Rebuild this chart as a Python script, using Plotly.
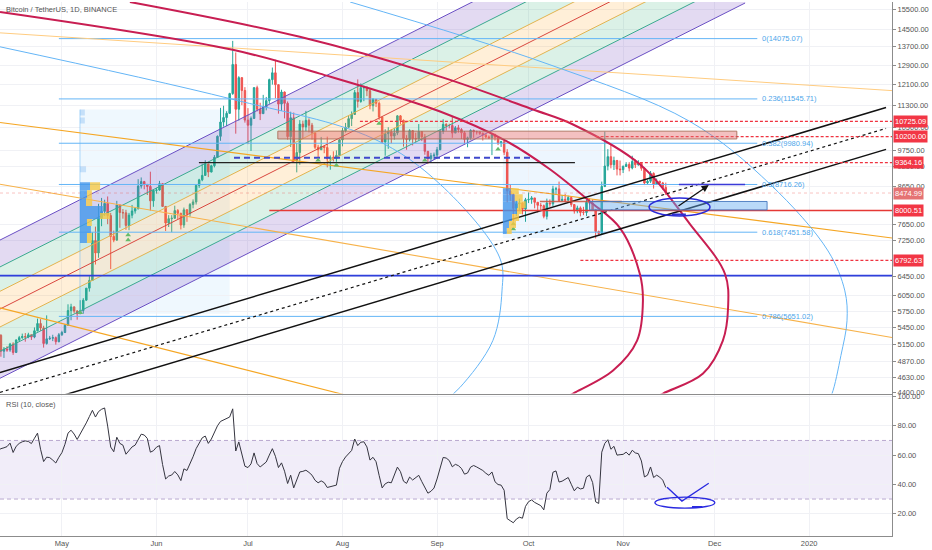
import numpy as np
import pandas as pd
import plotly.graph_objects as go

# ---------------------------------------------------------------
# BTC / USDT daily candles (Binance), 2019-04-10 .. 2019-11-15
# ---------------------------------------------------------------
first_open = 5200
closes = [
    5310, 5040, 5075, 5060, 5160, 5020, 5230, 5270, 5290, 5280, 5320, 5280, 5390, 5520, 5440, 5170, 5250, 5260, 5270, 5200, 5320,  # apr
    5360, 5490, 5760, 5830, 5750, 5700, 5760, 5960, 6200, 6360, 7250, 6960, 7800, 7980, 8190, 7870, 7350, 7260, 8150, 7950, 7940,
    7620, 7880, 7990, 8050, 8670, 8800, 8720, 8660, 8260, 8550,  # may
    8560, 8740, 8110, 7680, 7790, 7800, 8000, 7930, 7630, 8020, 7920, 8160, 8230, 8690, 8850, 8980, 9320, 9080, 9270, 9530,
    10210, 10700, 10860, 11010, 11750, 12930, 11160, 12380, 11870, 10770,  # jun
    10590, 10830, 11980, 11160, 11000, 11240, 11480, 12300, 12580, 12100, 11350, 11810, 11380, 10200, 10850, 9430, 9680, 10630,
    10530, 10760, 10590, 10320, 9850, 9770, 9880, 9840, 9480, 9530, 9500, 9590, 10090,  # jul
    10400, 10520, 10820, 10970, 11790, 11450, 11980, 11980, 11860, 11290, 11530, 11380, 10880, 10020, 10300, 10360, 10220, 10320,
    10920, 10760, 10140, 10110, 10400, 10140, 10130, 10370, 10190, 9720, 9490, 9580, 9600,  # aug
    9770, 10380, 10620, 10580, 10580, 10320, 10500, 10440, 10330, 10110, 10160, 10410, 10360, 10360, 10310, 10260, 10190, 10160,
    10270, 10180, 9990, 10030, 9690, 8530, 8430, 8060, 8180, 8200, 8040, 8290,  # sep
    8300, 8340, 8220, 8140, 8130, 7850, 8200, 8180, 8590, 8590, 8270, 8300, 8280, 8350, 8160, 7990, 8070, 7950, 7950, 8220, 8200,
    8020, 7470, 7420, 8660, 9260, 9550, 9300, 9430, 9170, 9150,  # oct
    9250, 9310, 9200, 9400, 9300, 9340, 9190, 8760, 8810, 9040, 8720, 8810, 8760, 8630, 8475,  # nov
]
highs = [
    5470, 5330, 5110, 5125, 5180, 5190, 5240, 5300, 5340, 5350, 5355, 5320, 5450, 5610, 5600, 5480, 5670, 5300, 5320, 5290, 5350,
    5390, 5510, 5880, 5890, 5840, 5770, 5960, 6000, 6200, 6450, 7450, 7590, 8180, 8340, 8290, 8380, 7940, 7490, 8260, 8160, 8040,
    8020, 7940, 8150, 8090, 8870, 8920, 8820, 8730, 9090, 8580,
    8620, 8820, 8750, 8110, 7880, 7880, 8130, 8040, 7940, 8080, 8040, 8200, 8300, 8700, 8880, 9330, 9440, 9330, 9300, 9600,
    10240, 11210, 11290, 11090, 11780, 13970, 13450, 12440, 12400, 12000,
    11200, 10900, 12000, 12060, 11400, 11700, 11620, 12340, 12800, 13130, 12100, 11900, 11830, 11450, 11070, 11040, 9990, 10770,
    10750, 11100, 10830, 10670, 10340, 9930, 10190, 9900, 10200, 9590, 9720, 9750, 10120,
    10500, 10670, 10920, 11080, 11890, 12310, 12150, 12060, 12040, 11960, 11580, 11540, 11450, 10880, 10450, 10520, 10460, 10500,
    10950, 10950, 10790, 10250, 10450, 10420, 10330, 10630, 10380, 10290, 9730, 9670, 9680,
    9860, 10440, 10800, 10660, 10640, 10890, 10560, 10600, 10490, 10390, 10200, 10450, 10440, 10400, 10380, 10340, 10260, 10240,
    10300, 10300, 10200, 10060, 10080, 9790, 8730, 8470, 8270, 8320, 8220, 8340,
    8490, 8390, 8340, 8230, 8200, 8160, 8320, 8300, 8680, 8650, 8800, 8420, 8450, 8400, 8390, 8170, 8130, 8110, 8100, 8290, 8330,
    8300, 8040, 7490, 8800, 10370, 9790, 9950, 9550, 9450, 9430,
    9280, 9380, 9380, 9580, 9460, 9440, 9360, 9220, 8860, 9110, 9070, 8890, 8820, 8790, 8770,
]
lows = [
    5180, 4950, 4930, 5030, 5030, 4980, 5010, 5210, 5250, 5200, 5260, 5230, 5260, 5380, 5390, 5100, 5150, 5230, 5210, 5150, 5190,
    5300, 5350, 5480, 5580, 5710, 5590, 5700, 5700, 5950, 6130, 6350, 6700, 6850, 7600, 7860, 7650, 6600, 7210, 7250, 7560, 7790,
    7510, 7500, 7800, 7920, 8030, 8600, 8580, 8420, 8000, 8100,
    8460, 8540, 8100, 7480, 7580, 7450, 7800, 7780, 7520, 7560, 7710, 7840, 8060, 8160, 8620, 8810, 8970, 8930, 9070, 9220,
    9520, 10060, 10540, 10560, 11000, 11700, 10300, 10750, 11310, 10680,
    9950, 9730, 10820, 11080, 10770, 10990, 11120, 11360, 12100, 11570, 11000, 11100, 10830, 10100, 9860, 9370, 9070, 9300,
    10120, 10380, 10340, 10100, 9790, 9520, 9760, 9660, 9220, 9150, 9400, 9390, 9590,
    9880, 10340, 10500, 10560, 10960, 11220, 11400, 11460, 11650, 11160, 11080, 11240, 10780, 9980, 9580, 9800, 9980, 10100,
    10250, 10620, 9870, 9770, 10040, 9910, 10000, 10100, 10050, 9610, 9320, 9360, 9450,
    9530, 9760, 10290, 10400, 10480, 10160, 10320, 10330, 10120, 9950, 9850, 10100, 10160, 10270, 10260, 10070, 10140, 10120,
    9600, 10070, 9920, 9860, 9600, 8220, 8260, 7720, 7860, 8000, 7900, 7710,
    8200, 8180, 8060, 7950, 8010, 7800, 7770, 8100, 8110, 8420, 8230, 8250, 8220, 8250, 8100, 7920, 7930, 7850, 7880, 7860, 8150,
    8000, 7300, 7360, 7400, 8640, 9130, 9190, 9140, 8980, 8980,
    9050, 9230, 9100, 9160, 9200, 9270, 9120, 8700, 8730, 8760, 8600, 8700, 8710, 8570, 8420,
]
# RSI(10, close)
rsi10 = [
    63, 64.4, 65, 65.8, 68.2, 61.8, 66, 68, 69.1, 69.7, 69.3, 67.9, 71.5, 75, 64, 55.6, 58.6, 58.3, 56.6, 54.6, 58.5,
    61.7, 67.4, 75, 77, 74.4, 70.7, 74.3, 78.1, 82, 86.3, 90.6, 86, 89.7, 91.3, 92.2, 79.8, 65.5, 62.3, 72.2, 68, 66.8,
    60.6, 63, 65.6, 66.8, 71.1, 74.3, 73.7, 71.4, 62, 63,
    65.4, 66.5, 53.6, 43.7, 45.7, 46.4, 48.8, 46.5, 42.6, 50.6, 49.5, 54, 58.9, 64.4, 68.1, 71.8, 73, 68, 71, 76,
    80, 83, 84, 85.5, 86, 91.6, 62.8, 69, 61, 52.4,
    51.5, 54, 61.5, 54.2, 51.9, 53.5, 55.3, 60, 64.4, 59.2, 51.5, 54.7, 49, 40.6, 46.3, 37.6, 42.9, 48.5,
    48.9, 49.7, 48.2, 46.3, 42.8, 41.1, 42.4, 41.2, 37.9, 38.4, 38.6, 39.5, 51,
    55.6, 58.7, 61.2, 63.2, 71, 66.5, 68.8, 69.1, 65.6, 56.6, 58.5, 55.5, 46.2, 37.6, 40.4, 41.5, 41.1, 47.1,
    51.8, 48.7, 42.2, 40.7, 45, 43, 44.5, 46.2, 41.9, 38, 34, 35.3, 37.5,
    43.7, 50.6, 58.4, 58, 56.3, 52, 53.7, 52.8, 50.9, 47, 47.8, 51.8, 52.9, 51.9, 50.8, 49.5, 47.6, 46.2,
    48.5, 41.8, 39.9, 39.5, 36, 16.6, 15.2, 13.8, 16.3, 17.6, 16.9, 25,
    28.2, 29.4, 27.7, 26.3, 25.5, 22.6, 34, 36.5, 48.3, 49.2, 41.6, 42.2, 43.4, 44.7, 40.1, 35.6, 38.1, 36.9, 37.4, 45, 46.4,
    41.3, 28.1, 27, 62, 68, 70.5, 64, 66, 60, 60.3,
    60.5, 62, 60, 63.3, 61.5, 61, 56, 45.1, 46.3, 51.9, 44.7, 46.3, 45, 42.9, 37.9,
]
dates = pd.date_range('2019-04-10', '2019-11-15', freq='D')
opens = [first_open] + closes[:-1]
assert len(closes) == len(highs) == len(lows) == len(rsi10) == len(dates)

# axis ticks
month_ticks = ['2019-05-01', '2019-06-01', '2019-07-01', '2019-08-01', '2019-09-01',
               '2019-10-01', '2019-11-01', '2019-12-01', '2020-01-01']
month_labels = ['May', 'Jun', 'Jul', 'Aug', 'Sep', 'Oct', 'Nov', 'Dec', '2020']
price_ticks = [15500, 14500, 13700, 12900, 12100, 11300, 10500, 9750, 9250, 8650,
               7650, 7250, 6450, 6050, 5750, 5450, 5150, 4870, 4630, 4400]
rsi_ticks = [20, 40, 60, 80, 100]
rsi_band = [30, 70]

# ---------------------------------------------------------------
# drawings (anchor dates / prices)
# ---------------------------------------------------------------
fork_dates = ['2019-04-10', '2019-12-11']
fork_purple_up = [7236, 24940]
fork_teal_up = [6625, 22830]
fork_orange_up = [6115, 21080]
fork_median = [5769, 19870]
fork_orange_lo = [5439, 18730]
fork_teal_lo = [5021, 17270]
fork_purple_lo = [4595, 15822]

fib_ratios = [0, 0.236, 0.382, 0.5, 0.618, 0.786]
fib_prices = [14075.07, 11545.71, 9980.94, 8716.26, 7451.58, 5651.02]
fib_span = ['2019-04-30', '2019-12-15']

arc_inner_dates = ['2019-04-10 17:00', '2019-06-26', '2019-07-24 14:00', '2019-09-02', '2019-09-23 22:00',
                   '2019-10-08', '2019-10-21', '2019-10-31', '2019-11-06 12:00', '2019-11-07 12:00',
                   '2019-11-05 14:00', '2019-10-28 17:00', '2019-10-15 14:00', '2019-10-11 07:00']
arc_inner_prices = [15363, 13567, 12545, 11076, 10041, 9163, 8252, 7553, 6496, 5947, 5219, 4730, 4386, 4287]
arc_outer_dates = ['2019-05-23 07:00', '2019-07-18', '2019-09-02', '2019-10-02 12:00', '2019-10-15 14:00',
                   '2019-11-06 12:00', '2019-11-22 22:00', '2019-12-04 10:00', '2019-12-05 10:00',
                   '2019-12-03 17:00', '2019-11-27 05:00', '2019-11-14 02:00', '2019-11-09 19:00']
arc_outer_prices = [15874, 14157, 12422, 11149, 10615, 9314, 7652, 6496, 5812, 5219, 4684, 4386, 4287]
blue_arc1_dates = ['2019-04-10 17:00', '2019-06-25', '2019-08-11', '2019-09-02', '2019-09-21 14:00',
                   '2019-09-22 07:00', '2019-09-19 07:00', '2019-09-08 12:00', '2019-09-03 14:00']
blue_arc1_prices = [13701, 11558, 10140, 8724, 6846, 6145, 5219, 4474, 4287]
blue_arc2_dates = ['2019-08-03 12:00', '2019-10-08', '2019-11-22 22:00', '2019-12-19 05:00', '2020-01-07 05:00',
                   '2020-01-12 17:00', '2020-01-13 10:00', '2020-01-11 10:00', '2020-01-08 12:00', '2020-01-07 05:00']
blue_arc2_prices = [15874, 12917, 10720, 8724, 7006, 6145, 5570, 4969, 4386, 4287]

trend_dates = ['2019-04-10 17:00', '2020-01-26 05:00']
trend_upper = [4700, 11223]
trend_mid = [4403, 10479]
trend_lower_dates = ['2019-04-23 19:00', '2020-01-26 05:00']
trend_lower = [4262, 9782]

orange_dates = ['2019-04-10 17:00', '2020-01-28 04:00']
orange_a = [14344, 11865]
orange_b = [10685, 7311]
orange_c = [8724, 5272]
orange_d_dates = ['2019-04-10 17:00', '2019-08-10']
orange_d = [5812, 4277]

dotted_levels = [10725.09, 10200.00, 9364.16, 6792.63]
dotted_starts = ['2019-08-06 17:00', '2019-10-23', '2019-11-06 12:00', '2019-10-18']
support_level, support_start = 8000.51, '2019-07-08'
last_price = 8474.99
blue_level = 6460
navy_dash_level, navy_dash_span = 9520, ['2019-06-26 10:00', '2019-10-01 12:00']
black_level, black_span = 9365, ['2019-06-14 22:00', '2019-10-16 05:00']
brown_level, brown_span = 8245, ['2019-10-04 17:00', '2019-10-31 14:00']
fib_mid_mark_span = ['2019-11-19 07:00', '2019-12-11']

label_prices = [10725.09, 10200.00, 9364.16, 8474.99, 8000.51, 6792.63]
label_colors = ['#f23645', '#f23645', '#f23645', '#e57373', '#f23645', '#f23645']

red_zone = dict(x0='2019-07-10 19:00', x1='2019-12-08 07:00', y0=10122, y1=10385)
blue_zone = dict(x0='2019-10-21', x1='2019-12-18 05:00', y0=8017, y1=8243)

vp1_start = '2019-05-06 22:00'
vp1_edges = [8782, 8555, 8334, 8118, 7934, 7780, 7604, 7430, 7193]
vp1_up = [3.3, 2.3, 2.0, 7.5, 6.6, 2.3, 3.6, 2.3]
vp1_down = [3.3, 1.6, 2.0, 0.0, 3.3, 1.6, 0.0, 1.6]
vp1_faint = [(10933, 11149, 1.6), (10652, 10861, 1.6), (9073, 9253, 2.0)]
vp1_box = dict(x1='2019-06-25', y0=5702, y1=11149)
vp2_start = '2019-09-22 14:00'
vp2_edges = [8610, 8444, 8252, 8066, 7908, 7729, 7553, 7408]
vp2_up = [2.6, 3.9, 4.9, 4.6, 3.0, 2.0, 1.3]
vp2_down = [2.6, 2.6, 2.6, 1.6, 2.3, 2.3, 1.6]
vp2_box = dict(x1='2019-10-25', y0=7311, y1=9944)

pivot_dates = ['2019-05-07', '2019-05-22 17:00', '2019-05-22 17:00', '2019-07-24', '2019-07-30',
               '2019-08-13', '2019-08-28', '2019-09-21', '2019-09-26', '2019-09-26']
pivot_prices = [5721, 7383, 7264, 9437, 9283, 10652, 9437, 9782, 7652, 7531]

arrow_from, arrow_to = ('2019-11-18 16:00', 8096), ('2019-11-29 02:00', 8698)
ellipse_main = dict(x0='2019-11-09 12:00', x1='2019-11-29 12:00', y0=7860, y1=8336)
ellipse_under = (['2019-11-17', '2019-11-21 14:00'], [7900, 7900])
rsi_v_dates = ['2019-11-15 10:00', '2019-11-20 07:00', '2019-11-29 02:00']
rsi_v_values = [38.1, 28.6, 40.8]
rsi_ellipse = dict(x0='2019-11-11 10:00', x1='2019-12-01 02:00', y0=23.8, y1=31.3)
rsi_under = (['2019-11-23 14:00', '2019-11-27'], [24.6, 24.6])

X_START, X_END, FAR = '2019-04-10 16:48', '2020-01-28 04:00', '2020-02-20'
Y_LO, Y_HI = 4386, 15874
RSI_LO, RSI_HI = 4.76, 101.36

fig = go.Figure()


def line(xs, ys, color, width=1, dash=None, smooth=False, axes=('x', 'y')):
    fig.add_trace(go.Scatter(
        x=xs, y=ys, mode='lines', xaxis=axes[0], yaxis=axes[1],
        line=dict(color=color, width=width, dash=dash, shape='spline' if smooth else 'linear'),
        hoverinfo='skip', showlegend=False))


def band(lo, hi, color):
    fig.add_trace(go.Scatter(
        x=[fork_dates[0], fork_dates[1], fork_dates[1], fork_dates[0]],
        y=[lo[0], lo[1], hi[1], hi[0]], mode='lines', fill='toself',
        fillcolor=color, line=dict(width=0), hoverinfo='skip', showlegend=False))


def box(x0, x1, y0, y1, fill, border=None, layer='above', yref='y', xref='x'):
    fig.add_shape(type='rect', xref=xref, yref=yref, x0=x0, x1=x1, y0=y0, y1=y1,
                  fillcolor=fill, layer=layer,
                  line=dict(color=border or 'rgba(0,0,0,0)', width=1 if border else 0))


# volume profile backgrounds
box(vp1_start, vp1_box['x1'], vp1_box['y0'], vp1_box['y1'], 'rgba(144,202,249,0.14)', layer='below')
box(vp2_start, vp2_box['x1'], vp2_box['y0'], vp2_box['y1'], 'rgba(144,202,249,0.16)', layer='below')

# pitchfork
purple_f, green_f, orange_f = 'rgba(126,87,194,0.22)', 'rgba(56,176,120,0.18)', 'rgba(255,167,38,0.18)'
band(fork_teal_up, fork_purple_up, purple_f)
band(fork_orange_up, fork_teal_up, green_f)
band(fork_median, fork_orange_up, orange_f)
band(fork_orange_lo, fork_median, orange_f)
band(fork_teal_lo, fork_orange_lo, green_f)
band(fork_purple_lo, fork_teal_lo, purple_f)
for lvl, col in [(fork_purple_up, '#6a4fc4'), (fork_teal_up, '#3aa98f'), (fork_orange_up, '#e2b34e'),
                 (fork_median, '#d9473f'), (fork_orange_lo, '#e2b34e'), (fork_teal_lo, '#3aa98f'),
                 (fork_purple_lo, '#6a4fc4')]:
    line(fork_dates, lvl, col, 1)

# fib retracement
for p in fib_prices:
    line(fib_span, [p, p], '#64b5f6', 1)
line([vp1_start, vp1_start], [vp1_box['y0'], vp1_box['y1']], 'rgba(100,181,246,0.5)', 1)

# thin orange and light-blue drawings
line(orange_dates, orange_a, '#ffcc80', 1)
line(orange_dates, orange_b, '#f5a623', 1.1)
line(orange_dates, orange_c, '#f7b24a', 1.1)
line(orange_d_dates, orange_d, '#f5a623', 1.1)
line(blue_arc1_dates, blue_arc1_prices, '#64b5f6', 1, smooth=True)
line(blue_arc2_dates, blue_arc2_prices, '#64b5f6', 1, smooth=True)

# full-width levels
line([X_START, FAR], [blue_level, blue_level], '#2f3fdc', 1.6)
line([X_START, FAR], [last_price, last_price], 'rgba(239,83,80,0.35)', 1, dash='dot')

# candles
fig.add_trace(go.Candlestick(
    x=dates, open=opens, high=highs, low=lows, close=closes,
    increasing=dict(line=dict(color='#26a69a', width=1), fillcolor='#26a69a'),
    decreasing=dict(line=dict(color='#ef5350', width=1), fillcolor='#ef5350'),
    whiskerwidth=0, hoverinfo='skip', showlegend=False, xaxis='x', yaxis='y'))

# arcs, trend lines, levels drawn over the candles
line(arc_inner_dates, arc_inner_prices, '#c81e52', 2, smooth=True)
line(arc_outer_dates, arc_outer_prices, '#c81e52', 2, smooth=True)
line(trend_dates, trend_upper, '#111111', 1.5)
line(trend_dates, trend_mid, '#111111', 1.2, dash='dot')
line(trend_lower_dates, trend_lower, '#111111', 1.5)
for p, s in zip(dotted_levels, dotted_starts):
    line([s, FAR], [p, p], '#ef3340', 1.4, dash='3px,2px')
line([support_start, FAR], [support_level, support_level], '#e53935', 1.4)
line(navy_dash_span, [navy_dash_level] * 2, '#3f48cc', 2, dash='6px,4px')
line(black_span, [black_level] * 2, '#222222', 1.2)
line(brown_span, [brown_level] * 2, 'rgba(205,80,60,0.85)', 1.5)
line(fib_mid_mark_span, [fib_prices[3]] * 2, '#3a3ad8', 1.6)
line(ellipse_under[0], ellipse_under[1], '#3030d0', 2)

fig.add_trace(go.Scatter(
    x=pivot_dates, y=pivot_prices, mode='markers', hoverinfo='skip', showlegend=False,
    marker=dict(symbol='triangle-up', size=5, color='#66bb6a')))

# zones
box(red_zone['x0'], red_zone['x1'], red_zone['y0'], red_zone['y1'],
    'rgba(229,115,115,0.45)', 'rgba(170,110,90,0.9)')
box(blue_zone['x0'], blue_zone['x1'], blue_zone['y0'], blue_zone['y1'],
    'rgba(100,170,240,0.45)', 'rgba(70,120,190,0.9)')

# volume profile rows
t1 = pd.Timestamp(vp1_start)
for i, (u, d) in enumerate(zip(vp1_up, vp1_down)):
    top, bot = vp1_edges[i], vp1_edges[i + 1]
    box(t1, t1 + pd.Timedelta(days=u), bot, top, 'rgba(66,150,235,0.8)')
    if d:
        box(t1 + pd.Timedelta(days=u), t1 + pd.Timedelta(days=u + d), bot, top, 'rgba(245,200,70,0.8)')
for bot, top, u in vp1_faint:
    box(t1, t1 + pd.Timedelta(days=u), bot, top, 'rgba(100,170,240,0.3)')
t2 = pd.Timestamp(vp2_start)
for i, (u, d) in enumerate(zip(vp2_up, vp2_down)):
    top, bot = vp2_edges[i], vp2_edges[i + 1]
    box(t2, t2 + pd.Timedelta(days=u), bot, top, 'rgba(66,150,235,0.8)')
    box(t2 + pd.Timedelta(days=u), t2 + pd.Timedelta(days=u + d), bot, top, 'rgba(245,200,70,0.8)')

fig.add_shape(type='circle', xref='x', yref='y', **ellipse_main,
              line=dict(color='#2a2ad8', width=1.5), layer='above')

# ---------------- RSI pane ----------------
box(X_START, FAR, rsi_band[0], rsi_band[1], 'rgba(149,117,205,0.13)', layer='below',
    xref='x2', yref='y2')
for v in rsi_band:
    line([X_START, FAR], [v, v], '#b9a9cf', 1, dash='4px,3px', axes=('x2', 'y2'))
line(dates, rsi10, '#34343f', 1, axes=('x2', 'y2'))
line(rsi_v_dates, rsi_v_values, '#2a2ae0', 1.3, axes=('x2', 'y2'))
line(rsi_under[0], rsi_under[1], '#2a2ae0', 2, axes=('x2', 'y2'))
fig.add_shape(type='circle', xref='x2', yref='y2', **rsi_ellipse,
              line=dict(color='#2a2ae0', width=1.3), layer='above')

# ---------------- annotations ----------------
ann = []
for r, p in zip(fib_ratios, fib_prices):
    ann.append(dict(x=fib_span[1], y=np.log10(p), xref='x', yref='y', xanchor='left', yanchor='middle',
                    xshift=3, text=f'{r}({p:.2f})', showarrow=False,
                    font=dict(size=7.5, color='#4ea6ea')))
for p, c in zip(label_prices, label_colors):
    ann.append(dict(x=1, y=np.log10(p), xref='paper', yref='y', xanchor='left', yanchor='middle',
                    xshift=1, text=f'{p:.2f}', showarrow=False, bgcolor=c, borderpad=1,
                    font=dict(size=7.5, color='white')))
ann.append(dict(x=arrow_to[0], y=np.log10(arrow_to[1]), ax=arrow_from[0], ay=np.log10(arrow_from[1]),
                xref='x', yref='y', axref='x', ayref='y', text='', showarrow=True,
                arrowhead=2, arrowsize=1.1, arrowwidth=1.3, arrowcolor='#111111'))
ann.append(dict(x=0.005, y=0.999, xref='paper', yref='paper', xanchor='left', yanchor='top',
                text='Bitcoin / TetherUS, 1D, BINANCE', showarrow=False,
                font=dict(size=7.5, color='#555555')))
ann.append(dict(x=0.005, y=0.258, xref='paper', yref='paper', xanchor='left', yanchor='top',
                text='RSI (10, close)', showarrow=False, font=dict(size=7.5, color='#555555')))

grid = '#f0f1f5'
axis_line = '#8c8c8c'
fig.update_layout(
    width=932, height=550,
    margin=dict(l=0, r=40, t=0, b=14),
    paper_bgcolor='white', plot_bgcolor='white',
    showlegend=False, hovermode=False,
    font=dict(family='Liberation Sans, Arial, sans-serif', size=8, color='#555555'),
    annotations=ann,
    xaxis=dict(domain=[0, 1], anchor='y', type='date', range=[X_START, X_END],
               tickvals=month_ticks, showticklabels=False, ticks='',
               showgrid=True, gridcolor=grid, zeroline=False,
               showline=True, linecolor=axis_line, linewidth=1,
               rangeslider=dict(visible=False)),
    yaxis=dict(domain=[0.2668, 1], anchor='x', type='log', side='right',
               range=[np.log10(Y_LO), np.log10(Y_HI)],
               tickvals=price_ticks, ticktext=[f'{v:.2f}' for v in price_ticks],
               tickfont=dict(size=7.5, color='#555555'),
               ticks='outside', ticklen=3, tickcolor=axis_line,
               showgrid=True, gridcolor=grid, zeroline=False,
               showline=True, linecolor=axis_line, linewidth=1),
    xaxis2=dict(domain=[0, 1], anchor='y2', type='date', matches='x', range=[X_START, X_END],
                tickvals=month_ticks, ticktext=month_labels, ticks='',
                tickfont=dict(size=7.5, color='#555555'),
                showgrid=True, gridcolor=grid, zeroline=False,
                showline=True, linecolor=axis_line, linewidth=1),
    yaxis2=dict(domain=[0, 0.2649], anchor='x2', side='right', range=[RSI_LO, RSI_HI],
                tickvals=rsi_ticks, ticktext=[f'{v:.2f}' for v in rsi_ticks],
                tickfont=dict(size=7.5, color='#555555'),
                ticks='outside', ticklen=3, tickcolor=axis_line,
                showgrid=True, gridcolor=grid, zeroline=False,
                showline=True, linecolor=axis_line, linewidth=1),
)

# the page's default body margin would push the 932x550 figure off the window
fig.write_html("out.html", config={'displayModeBar': False},
               post_script="document.body.style.margin='0px';document.body.style.overflow='hidden';")
